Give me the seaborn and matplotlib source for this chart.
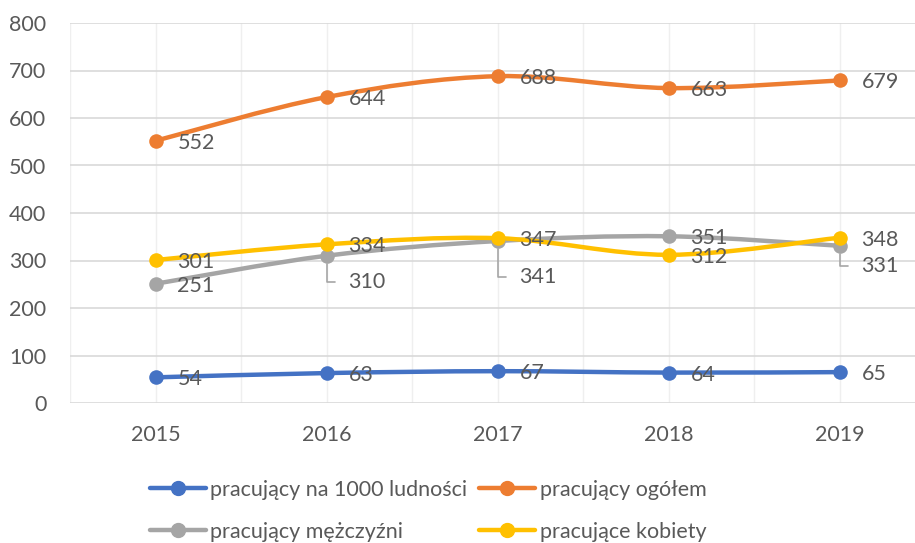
import matplotlib
matplotlib.use("Agg")
import matplotlib.pyplot as plt
import seaborn as sns
import numpy as np
import pandas as pd
from matplotlib.path import Path
from matplotlib.patches import PathPatch
from matplotlib.lines import Line2D

years = ["2015", "2016", "2017", "2018", "2019"]
na_1000 = [54, 63, 67, 64, 65]
ogolem = [552, 644, 688, 663, 679]
mezczyzni = [251, 310, 341, 351, 331]
kobiety = [301, 334, 347, 312, 348]
series_names = ["pracujący na 1000 ludności", "pracujący ogółem",
                "pracujący mężczyźni", "pracujące kobiety"]
y_ticks = [0, 100, 200, 300, 400, 500, 600, 700, 800]

colors = ["#4472C4", "#ED7D31", "#A5A5A5", "#FFC000"]
series = [na_1000, ogolem, mezczyzni, kobiety]

sns.set_theme(style="white")
plt.rcParams["font.family"] = ["Lato", "DejaVu Sans"]
txt_color = "#595959"
FS = 15.5

fig = plt.figure(figsize=(9.15, 5.43), dpi=100)
ax = fig.add_axes([70 / 915, 140 / 543, 855 / 915, 380 / 543])

rows = []
for name, vals in zip(series_names, series):
    for i, (yr, v) in enumerate(zip(years, vals)):
        rows.append({"series": name, "x": i, "year": yr, "value": v})
df = pd.DataFrame(rows)

ax.set_xlim(-0.5, 4.5)
ax.set_ylim(0, 800)

# grid
for k in range(len(years)):
    ax.axvline(k, color="#efefef", lw=1, zorder=0)
    ax.axvline(k - 0.5, color="#efefef", lw=1, zorder=0)
for t in y_ticks:
    ax.axhline(t, color="#d9d9d9", lw=1.2, zorder=0.5)


def smooth_path(xs, ys):
    pts = np.column_stack([xs, ys]).astype(float)
    n = len(pts)
    verts = [pts[0]]
    codes = [Path.MOVETO]
    for i in range(n - 1):
        p0 = pts[i - 1] if i > 0 else pts[i]
        p1 = pts[i]
        p2 = pts[i + 1]
        p3 = pts[i + 2] if i + 2 < n else pts[i + 1]
        c1 = p1 + (p2 - p0) / 6.0
        c2 = p2 - (p3 - p1) / 6.0
        verts += [c1, c2, p2]
        codes += [Path.CURVE4] * 3
    return Path(verts, codes)


for name, col in zip(series_names, colors):
    sub = df[df["series"] == name]
    patch = PathPatch(smooth_path(sub["x"].values, sub["value"].values),
                      facecolor="none", edgecolor=col, lw=3.2,
                      capstyle="round", zorder=3)
    ax.add_patch(patch)
    sns.scatterplot(data=sub, x="x", y="value", color=col, s=110,
                    edgecolor=col, linewidth=0, ax=ax, zorder=4, legend=False)

# data labels (offsets in pixels; leader lines for some)
offsets = {
    (2, 1): (22, -26),
    (2, 2): (22, -36),
    (2, 4): (22, -20),
}
for si, (vals, col) in enumerate(zip(series, colors)):
    for i, v in enumerate(vals):
        dx, dy = offsets.get((si, i), (22, -2))
        if (si, i) in offsets:
            ax.annotate(str(v), xy=(i, v), xytext=(dx, dy),
                        textcoords="offset pixels", ha="left", va="center",
                        fontsize=FS, color=txt_color, zorder=6,
                        arrowprops=dict(arrowstyle="-", color="#a6a6a6", lw=1.2,
                                        connectionstyle="angle,angleA=0,angleB=90",
                                        relpos=(0, 0.5), shrinkA=7, shrinkB=6))
        else:
            ax.annotate(str(v), xy=(i, v), xytext=(dx, dy),
                        textcoords="offset pixels", ha="left", va="center",
                        fontsize=FS, color=txt_color, zorder=6)

ax.set_xticks(range(len(years)))
ax.set_xticklabels(years)
ax.set_yticks(y_ticks)
ax.set_yticklabels([str(t) for t in y_ticks])
ax.tick_params(axis="both", length=0, labelsize=FS, labelcolor=txt_color)
ax.tick_params(axis="y", pad=17)
ax.tick_params(axis="x", pad=16)
ax.set_xlabel("")
ax.set_ylabel("")
for s in ax.spines.values():
    s.set_visible(False)

handles = [Line2D([], [], color=c, lw=3.2, marker="o", markersize=10,
                  solid_capstyle="round") for c in colors]
# column-major fill: row 1 = blue, orange; row 2 = gray, yellow
order = [0, 2, 1, 3]
fig.legend([handles[i] for i in order], [series_names[i] for i in order],
           ncol=2, loc="upper left",
           bbox_to_anchor=(150 / 915, 1 - 480 / 543), frameon=False,
           fontsize=FS, labelcolor=txt_color, handlelength=2.6,
           handletextpad=0.2, columnspacing=0.55, labelspacing=1.0,
           borderpad=0, borderaxespad=0)

fig.savefig("out.png", dpi=100)
